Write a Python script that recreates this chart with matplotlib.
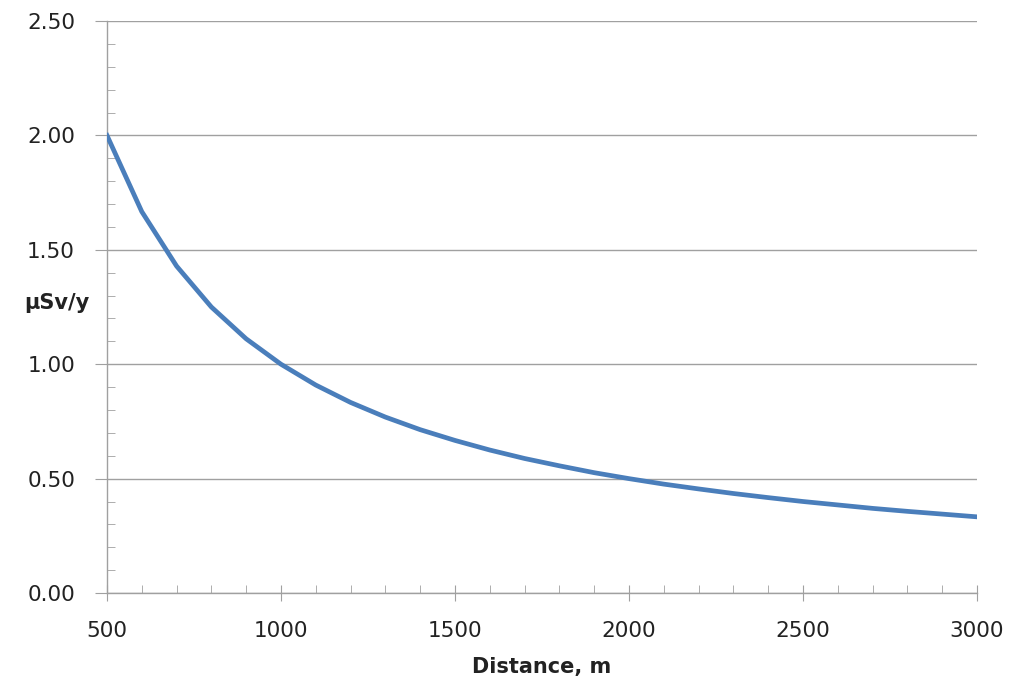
import matplotlib
matplotlib.use("Agg")
import matplotlib.pyplot as plt
from matplotlib.ticker import MultipleLocator, FormatStrFormatter

# Dose rate vs distance
distance = [500, 600, 700, 800, 900, 1000, 1100, 1200, 1300, 1400, 1500,
            1600, 1700, 1800, 1900, 2000, 2100, 2200, 2300, 2400, 2500,
            2600, 2700, 2800, 2900, 3000]
dose = [2.000, 1.667, 1.429, 1.250, 1.111, 1.000, 0.909, 0.833, 0.769, 0.714, 0.667,
        0.625, 0.588, 0.556, 0.526, 0.500, 0.476, 0.455, 0.435, 0.417, 0.400,
        0.385, 0.370, 0.357, 0.345, 0.333]

plt.rcParams['font.family'] = ['DejaVu Sans']

fig = plt.figure(figsize=(10.12, 6.8), dpi=100)
ax = fig.add_axes([0.1057, 0.1279, 0.8597, 0.8412])

grid_col = '#a0a0a0'
text_col = '#222222'
ax.plot(distance, dose, color='#4a7ebb', lw=3.4, solid_joinstyle='round', zorder=3)

ax.set_xlim(500, 3000)
ax.set_ylim(0, 2.5)
ax.xaxis.set_major_locator(MultipleLocator(500))
ax.xaxis.set_minor_locator(MultipleLocator(100))
ax.yaxis.set_major_locator(MultipleLocator(0.5))
ax.yaxis.set_minor_locator(MultipleLocator(0.1))
ax.yaxis.set_major_formatter(FormatStrFormatter('%.2f'))

ax.grid(axis='y', which='major', color=grid_col, lw=1.0)
ax.set_axisbelow(True)

for s in ['top', 'right']:
    ax.spines[s].set_visible(False)
for s in ['left', 'bottom']:
    ax.spines[s].set_color(grid_col)
    ax.spines[s].set_linewidth(1.0)

ax.tick_params(axis='y', which='major', direction='out', length=9, color=grid_col,
               labelsize=15.5, pad=14, labelcolor=text_col)
ax.tick_params(axis='y', which='minor', direction='in', length=6, color=grid_col)
ax.tick_params(axis='x', which='major', direction='inout', length=12, color=grid_col,
               labelsize=15.5, pad=14, labelcolor=text_col)
ax.tick_params(axis='x', which='minor', direction='in', length=6, color=grid_col)

ax.set_xlabel('Distance, m', fontsize=15, fontweight='bold', labelpad=12, color=text_col)
ax.set_ylabel('µSv/y', fontsize=15, fontweight='bold', rotation=0, color=text_col)
ax.yaxis.set_label_coords(-0.058, 0.49)

fig.savefig('out.png', dpi=100)
